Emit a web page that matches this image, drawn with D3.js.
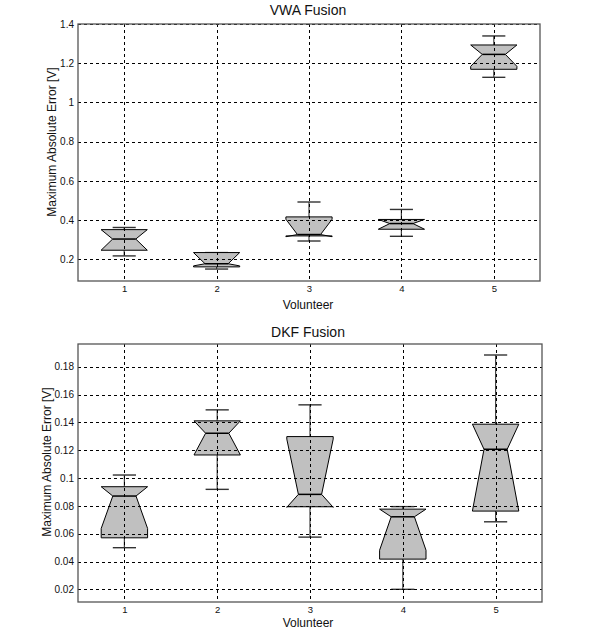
<!DOCTYPE html>
<html>
<head>
<meta charset="utf-8">
<script src="https://cdn.jsdelivr.net/npm/d3@7/dist/d3.min.js"></script>
<style>
html,body{margin:0;padding:0;background:#fff;}
svg{display:block;font-family:"Liberation Sans",Arial,sans-serif;}
</style>
</head>
<body>
<svg id="chart" width="600" height="637"></svg>
<script>
// ---- Data ----
const volunteers = [1, 2, 3, 4, 5];

// VWA Fusion
const vwaWhiskerLow  = [0.217, 0.150, 0.293, 0.317, 1.128];
const vwaQ1          = [0.246, 0.161, 0.319, 0.353, 1.169];
const vwaNotchLow    = [0.246, 0.166, 0.315, 0.353, 1.184];
const vwaMedian      = [0.303, 0.177, 0.326, 0.382, 1.245];
const vwaNotchHigh   = [0.351, 0.234, 0.404, 0.403, 1.293];
const vwaQ3          = [0.351, 0.234, 0.416, 0.403, 1.293];
const vwaWhiskerHigh = [0.362, 0.234, 0.492, 0.454, 1.339];
const vwaTicks = [0.2, 0.4, 0.6, 0.8, 1, 1.2, 1.4];

// DKF Fusion
const dkfWhiskerLow  = [0.0500, 0.0919, 0.0576, 0.0201, 0.0686];
const dkfQ1          = [0.0571, 0.1166, 0.0794, 0.0418, 0.0763];
const dkfNotchLow    = [0.0638, 0.1166, 0.0790, 0.0482, 0.0763];
const dkfMedian      = [0.0871, 0.1322, 0.0883, 0.0722, 0.1207];
const dkfNotchHigh   = [0.0938, 0.1411, 0.1280, 0.0777, 0.1387];
const dkfQ3          = [0.0938, 0.1411, 0.1298, 0.0777, 0.1387];
const dkfWhiskerHigh = [0.1022, 0.1490, 0.1526, 0.0795, 0.1884];
const dkfTicks = [0.02, 0.04, 0.06, 0.08, 0.1, 0.12, 0.14, 0.16, 0.18];

const svg = d3.select("#chart");

function panel(cfg) {
  const x = d3.scaleLinear().domain([0.5, 5.5]).range([cfg.left, cfg.right]);
  const y = d3.scaleLinear().domain(cfg.yDomain).range([cfg.bottom, cfg.top]);
  const g = svg.append("g");

  const boxes = volunteers.map((v, i) => ({
    v, wl: cfg.wl[i], q1: cfg.q1[i], nlo: cfg.nlo[i], med: cfg.med[i],
    nhi: cfg.nhi[i], q3: cfg.q3[i], wh: cfg.wh[i]
  }));
  const w = 0.25, cw = 0.125;

  // whiskers
  boxes.forEach(b => {
    g.append("line").attr("x1", x(b.v)).attr("x2", x(b.v))
      .attr("y1", y(b.q3)).attr("y2", y(b.wh))
      .attr("stroke", "#444").attr("stroke-width", 1.2);
    g.append("line").attr("x1", x(b.v)).attr("x2", x(b.v))
      .attr("y1", y(b.q1)).attr("y2", y(b.wl))
      .attr("stroke", "#444").attr("stroke-width", 1.2);
    [b.wl, b.wh].forEach(val => {
      g.append("line").attr("x1", x(b.v - cw)).attr("x2", x(b.v + cw))
        .attr("y1", y(val)).attr("y2", y(val))
        .attr("stroke", "#333").attr("stroke-width", 1.4);
    });
  });

  // notched boxes
  boxes.forEach(b => {
    const pts = [
      [b.v - w, b.q1], [b.v - w, b.nlo], [b.v - w / 2, b.med], [b.v - w, b.nhi],
      [b.v - w, b.q3], [b.v + w, b.q3], [b.v + w, b.nhi], [b.v + w / 2, b.med],
      [b.v + w, b.nlo], [b.v + w, b.q1]
    ].map(p => [x(p[0]), y(p[1])]);
    g.append("polygon").attr("points", pts.map(p => p.join(",")).join(" "))
      .attr("fill", "#c0c0c0").attr("stroke", "#000").attr("stroke-width", 1)
      .attr("stroke-linejoin", "miter");
    g.append("line").attr("x1", x(b.v - w / 2)).attr("x2", x(b.v + w / 2))
      .attr("y1", y(b.med)).attr("y2", y(b.med))
      .attr("stroke", "#000").attr("stroke-width", 1.5);
  });

  // grid on top
  cfg.ticks.forEach(t => {
    g.append("line").attr("x1", cfg.left).attr("x2", cfg.right)
      .attr("y1", Math.round(y(t)) + 0.5).attr("y2", Math.round(y(t)) + 0.5)
      .attr("stroke", "#000").attr("stroke-width", 1).attr("stroke-dasharray", "3,3");
  });
  volunteers.forEach(v => {
    g.append("line").attr("x1", Math.round(x(v)) + 0.5).attr("x2", Math.round(x(v)) + 0.5)
      .attr("y1", cfg.top).attr("y2", cfg.bottom)
      .attr("stroke", "#000").attr("stroke-width", 1).attr("stroke-dasharray", "3,3");
  });

  // frame
  g.append("rect").attr("x", cfg.left).attr("y", cfg.top)
    .attr("width", cfg.right - cfg.left).attr("height", cfg.bottom - cfg.top)
    .attr("fill", "none").attr("stroke", "#555").attr("stroke-width", 1.3);

  // axes via d3
  const yAxis = d3.axisLeft(y).tickValues(cfg.ticks).tickSize(0).tickPadding(4)
    .tickFormat(d => String(+d.toFixed(2)));
  const ya = g.append("g").attr("transform", `translate(${cfg.left},0)`).call(yAxis);
  ya.select(".domain").remove();
  ya.selectAll("text").attr("font-size", 10).attr("fill", "#111")
    .attr("font-family", "Liberation Sans, Arial, sans-serif");

  const xAxis = d3.axisBottom(x).tickValues(volunteers).tickSize(0).tickPadding(4)
    .tickFormat(d3.format("d"));
  const xa = g.append("g").attr("transform", `translate(0,${cfg.bottom})`).call(xAxis);
  xa.select(".domain").remove();
  xa.selectAll("text").attr("font-size", 9.5).attr("fill", "#111")
    .attr("font-family", "Liberation Sans, Arial, sans-serif");

  // labels
  g.append("text").attr("x", 308).attr("y", cfg.titleY).attr("text-anchor", "middle")
    .attr("font-size", 14).attr("fill", "#111").text(cfg.title);
  g.append("text").attr("x", 308).attr("y", cfg.xlabelY).attr("text-anchor", "middle")
    .attr("font-size", 12).attr("fill", "#111").text("Volunteer");
  g.append("text")
    .attr("transform", `translate(${cfg.ylabelX},${cfg.ylabelY}) rotate(-90)`)
    .attr("text-anchor", "middle").attr("font-size", 12).attr("fill", "#111")
    .text("Maximum Absolute Error [V]");
}

panel({
  left: 78, right: 540, top: 24, bottom: 281, yDomain: [0.089, 1.4],
  ticks: vwaTicks, title: "VWA Fusion", titleY: 15, xlabelY: 309,
  ylabelX: 56, ylabelY: 142,
  wl: vwaWhiskerLow, q1: vwaQ1, nlo: vwaNotchLow, med: vwaMedian,
  nhi: vwaNotchHigh, q3: vwaQ3, wh: vwaWhiskerHigh
});

panel({
  left: 78, right: 542, top: 344, bottom: 602, yDomain: [0.011, 0.1963],
  ticks: dkfTicks, title: "DKF Fusion", titleY: 337, xlabelY: 627,
  ylabelX: 51, ylabelY: 462,
  wl: dkfWhiskerLow, q1: dkfQ1, nlo: dkfNotchLow, med: dkfMedian,
  nhi: dkfNotchHigh, q3: dkfQ3, wh: dkfWhiskerHigh
});
</script>
</body>
</html>
